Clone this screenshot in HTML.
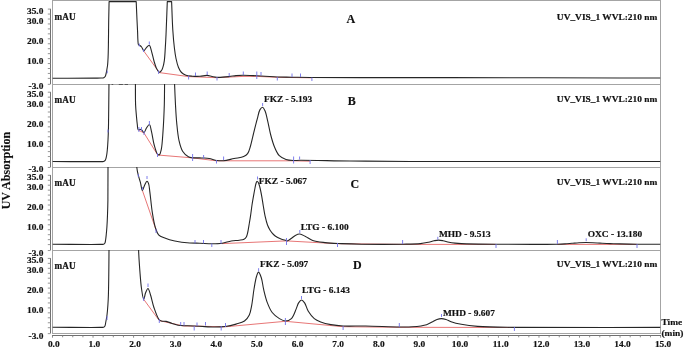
<!DOCTYPE html>
<html><head><meta charset="utf-8"><title>Chromatogram</title>
<style>html,body{margin:0;padding:0;background:#fff;width:685px;height:349px;overflow:hidden;font-family:"Liberation Serif",serif;}svg{display:block;will-change:transform;-webkit-font-smoothing:antialiased}</style>
</head><body>
<svg width="685" height="349" viewBox="0 0 685 349">
<defs>
<clipPath id="c0"><rect x="52.5" y="0.5" width="608" height="84.0"/></clipPath>
<clipPath id="c1"><rect x="52.5" y="84.0" width="608" height="83.5"/></clipPath>
<clipPath id="c2"><rect x="52.5" y="167.0" width="608" height="83.5"/></clipPath>
<clipPath id="c3"><rect x="52.5" y="250.0" width="608" height="83.5"/></clipPath>
</defs>
<g stroke="#a4a4a4" stroke-width="1" fill="none">
<line x1="52.5" y1="0" x2="52.5" y2="334"/>
<line x1="660.5" y1="0" x2="660.5" y2="334"/>
<line x1="52.0" y1="0.5" x2="661.0" y2="0.5"/>
<line x1="52.0" y1="84.5" x2="661.0" y2="84.5"/>
<line x1="52.0" y1="167.5" x2="661.0" y2="167.5"/>
<line x1="52.0" y1="250.5" x2="661.0" y2="250.5"/>
<line x1="52.0" y1="333.5" x2="661.0" y2="333.5"/>
</g>
<g stroke="#707070" stroke-width="1" fill="none">
<line x1="50.5" y1="8.80" x2="50.5" y2="84.04"/>
<line x1="47.8" y1="9.10" x2="50.5" y2="9.10" stroke="#8a8a8a" stroke-width="0.9"/>
<line x1="47.8" y1="14.05" x2="50.5" y2="14.05" stroke="#8a8a8a" stroke-width="0.9"/>
<line x1="47.8" y1="19.00" x2="50.5" y2="19.00" stroke="#8a8a8a" stroke-width="0.9"/>
<line x1="47.8" y1="23.95" x2="50.5" y2="23.95" stroke="#8a8a8a" stroke-width="0.9"/>
<line x1="47.8" y1="28.90" x2="50.5" y2="28.90" stroke="#8a8a8a" stroke-width="0.9"/>
<line x1="47.8" y1="33.85" x2="50.5" y2="33.85" stroke="#8a8a8a" stroke-width="0.9"/>
<line x1="47.8" y1="38.80" x2="50.5" y2="38.80" stroke="#8a8a8a" stroke-width="0.9"/>
<line x1="47.8" y1="43.75" x2="50.5" y2="43.75" stroke="#8a8a8a" stroke-width="0.9"/>
<line x1="47.8" y1="48.70" x2="50.5" y2="48.70" stroke="#8a8a8a" stroke-width="0.9"/>
<line x1="47.8" y1="53.65" x2="50.5" y2="53.65" stroke="#8a8a8a" stroke-width="0.9"/>
<line x1="47.8" y1="58.60" x2="50.5" y2="58.60" stroke="#8a8a8a" stroke-width="0.9"/>
<line x1="47.8" y1="63.55" x2="50.5" y2="63.55" stroke="#8a8a8a" stroke-width="0.9"/>
<line x1="47.8" y1="68.50" x2="50.5" y2="68.50" stroke="#8a8a8a" stroke-width="0.9"/>
<line x1="47.8" y1="73.45" x2="50.5" y2="73.45" stroke="#8a8a8a" stroke-width="0.9"/>
<line x1="47.8" y1="78.40" x2="50.5" y2="78.40" stroke="#8a8a8a" stroke-width="0.9"/>
<line x1="47.8" y1="84.34" x2="50.5" y2="84.34" stroke="#8a8a8a" stroke-width="0.9"/>
<line x1="50.5" y1="91.90" x2="50.5" y2="167.14"/>
<line x1="47.8" y1="92.20" x2="50.5" y2="92.20" stroke="#8a8a8a" stroke-width="0.9"/>
<line x1="47.8" y1="97.15" x2="50.5" y2="97.15" stroke="#8a8a8a" stroke-width="0.9"/>
<line x1="47.8" y1="102.10" x2="50.5" y2="102.10" stroke="#8a8a8a" stroke-width="0.9"/>
<line x1="47.8" y1="107.05" x2="50.5" y2="107.05" stroke="#8a8a8a" stroke-width="0.9"/>
<line x1="47.8" y1="112.00" x2="50.5" y2="112.00" stroke="#8a8a8a" stroke-width="0.9"/>
<line x1="47.8" y1="116.95" x2="50.5" y2="116.95" stroke="#8a8a8a" stroke-width="0.9"/>
<line x1="47.8" y1="121.90" x2="50.5" y2="121.90" stroke="#8a8a8a" stroke-width="0.9"/>
<line x1="47.8" y1="126.85" x2="50.5" y2="126.85" stroke="#8a8a8a" stroke-width="0.9"/>
<line x1="47.8" y1="131.80" x2="50.5" y2="131.80" stroke="#8a8a8a" stroke-width="0.9"/>
<line x1="47.8" y1="136.75" x2="50.5" y2="136.75" stroke="#8a8a8a" stroke-width="0.9"/>
<line x1="47.8" y1="141.70" x2="50.5" y2="141.70" stroke="#8a8a8a" stroke-width="0.9"/>
<line x1="47.8" y1="146.65" x2="50.5" y2="146.65" stroke="#8a8a8a" stroke-width="0.9"/>
<line x1="47.8" y1="151.60" x2="50.5" y2="151.60" stroke="#8a8a8a" stroke-width="0.9"/>
<line x1="47.8" y1="156.55" x2="50.5" y2="156.55" stroke="#8a8a8a" stroke-width="0.9"/>
<line x1="47.8" y1="161.50" x2="50.5" y2="161.50" stroke="#8a8a8a" stroke-width="0.9"/>
<line x1="47.8" y1="167.44" x2="50.5" y2="167.44" stroke="#8a8a8a" stroke-width="0.9"/>
<line x1="50.5" y1="175.00" x2="50.5" y2="250.24"/>
<line x1="47.8" y1="175.30" x2="50.5" y2="175.30" stroke="#8a8a8a" stroke-width="0.9"/>
<line x1="47.8" y1="180.25" x2="50.5" y2="180.25" stroke="#8a8a8a" stroke-width="0.9"/>
<line x1="47.8" y1="185.20" x2="50.5" y2="185.20" stroke="#8a8a8a" stroke-width="0.9"/>
<line x1="47.8" y1="190.15" x2="50.5" y2="190.15" stroke="#8a8a8a" stroke-width="0.9"/>
<line x1="47.8" y1="195.10" x2="50.5" y2="195.10" stroke="#8a8a8a" stroke-width="0.9"/>
<line x1="47.8" y1="200.05" x2="50.5" y2="200.05" stroke="#8a8a8a" stroke-width="0.9"/>
<line x1="47.8" y1="205.00" x2="50.5" y2="205.00" stroke="#8a8a8a" stroke-width="0.9"/>
<line x1="47.8" y1="209.95" x2="50.5" y2="209.95" stroke="#8a8a8a" stroke-width="0.9"/>
<line x1="47.8" y1="214.90" x2="50.5" y2="214.90" stroke="#8a8a8a" stroke-width="0.9"/>
<line x1="47.8" y1="219.85" x2="50.5" y2="219.85" stroke="#8a8a8a" stroke-width="0.9"/>
<line x1="47.8" y1="224.80" x2="50.5" y2="224.80" stroke="#8a8a8a" stroke-width="0.9"/>
<line x1="47.8" y1="229.75" x2="50.5" y2="229.75" stroke="#8a8a8a" stroke-width="0.9"/>
<line x1="47.8" y1="234.70" x2="50.5" y2="234.70" stroke="#8a8a8a" stroke-width="0.9"/>
<line x1="47.8" y1="239.65" x2="50.5" y2="239.65" stroke="#8a8a8a" stroke-width="0.9"/>
<line x1="47.8" y1="244.60" x2="50.5" y2="244.60" stroke="#8a8a8a" stroke-width="0.9"/>
<line x1="47.8" y1="250.54" x2="50.5" y2="250.54" stroke="#8a8a8a" stroke-width="0.9"/>
<line x1="50.5" y1="258.10" x2="50.5" y2="333.34"/>
<line x1="47.8" y1="258.40" x2="50.5" y2="258.40" stroke="#8a8a8a" stroke-width="0.9"/>
<line x1="47.8" y1="263.35" x2="50.5" y2="263.35" stroke="#8a8a8a" stroke-width="0.9"/>
<line x1="47.8" y1="268.30" x2="50.5" y2="268.30" stroke="#8a8a8a" stroke-width="0.9"/>
<line x1="47.8" y1="273.25" x2="50.5" y2="273.25" stroke="#8a8a8a" stroke-width="0.9"/>
<line x1="47.8" y1="278.20" x2="50.5" y2="278.20" stroke="#8a8a8a" stroke-width="0.9"/>
<line x1="47.8" y1="283.15" x2="50.5" y2="283.15" stroke="#8a8a8a" stroke-width="0.9"/>
<line x1="47.8" y1="288.10" x2="50.5" y2="288.10" stroke="#8a8a8a" stroke-width="0.9"/>
<line x1="47.8" y1="293.05" x2="50.5" y2="293.05" stroke="#8a8a8a" stroke-width="0.9"/>
<line x1="47.8" y1="298.00" x2="50.5" y2="298.00" stroke="#8a8a8a" stroke-width="0.9"/>
<line x1="47.8" y1="302.95" x2="50.5" y2="302.95" stroke="#8a8a8a" stroke-width="0.9"/>
<line x1="47.8" y1="307.90" x2="50.5" y2="307.90" stroke="#8a8a8a" stroke-width="0.9"/>
<line x1="47.8" y1="312.85" x2="50.5" y2="312.85" stroke="#8a8a8a" stroke-width="0.9"/>
<line x1="47.8" y1="317.80" x2="50.5" y2="317.80" stroke="#8a8a8a" stroke-width="0.9"/>
<line x1="47.8" y1="322.75" x2="50.5" y2="322.75" stroke="#8a8a8a" stroke-width="0.9"/>
<line x1="47.8" y1="327.70" x2="50.5" y2="327.70" stroke="#8a8a8a" stroke-width="0.9"/>
<line x1="47.8" y1="333.64" x2="50.5" y2="333.64" stroke="#8a8a8a" stroke-width="0.9"/>
</g>
<g font-family="Liberation Serif" font-weight="bold" font-size="9.4" fill="#111" stroke="#111" stroke-width="0.2" text-anchor="end">
<text transform="translate(43.40,14.15) scale(1,0.91)">35.0</text>
<text transform="translate(43.40,24.05) scale(1,0.91)">30.0</text>
<text transform="translate(43.40,43.85) scale(1,0.91)">20.0</text>
<text transform="translate(43.40,63.65) scale(1,0.91)">10.0</text>
<text transform="translate(43.40,89.39) scale(1,0.91)">-3.0</text>
<text transform="translate(43.40,97.25) scale(1,0.91)">35.0</text>
<text transform="translate(43.40,107.15) scale(1,0.91)">30.0</text>
<text transform="translate(43.40,126.95) scale(1,0.91)">20.0</text>
<text transform="translate(43.40,146.75) scale(1,0.91)">10.0</text>
<text transform="translate(43.40,172.49) scale(1,0.91)">-3.0</text>
<text transform="translate(43.40,180.35) scale(1,0.91)">35.0</text>
<text transform="translate(43.40,190.25) scale(1,0.91)">30.0</text>
<text transform="translate(43.40,210.05) scale(1,0.91)">20.0</text>
<text transform="translate(43.40,229.85) scale(1,0.91)">10.0</text>
<text transform="translate(43.40,255.59) scale(1,0.91)">-3.0</text>
<text transform="translate(43.40,263.45) scale(1,0.91)">35.0</text>
<text transform="translate(43.40,273.35) scale(1,0.91)">30.0</text>
<text transform="translate(43.40,293.15) scale(1,0.91)">20.0</text>
<text transform="translate(43.40,312.95) scale(1,0.91)">10.0</text>
<text transform="translate(43.40,338.69) scale(1,0.91)">-3.0</text>
</g>
<g stroke="#707070" stroke-width="1" fill="none">
<line x1="52" y1="335.5" x2="661" y2="335.5"/>
<line x1="52.50" y1="335.5" x2="52.50" y2="337.7" stroke="#808080" stroke-width="0.9"/>
<line x1="62.63" y1="335.5" x2="62.63" y2="337.3" stroke="#808080" stroke-width="0.9"/>
<line x1="72.77" y1="335.5" x2="72.77" y2="337.3" stroke="#808080" stroke-width="0.9"/>
<line x1="82.91" y1="335.5" x2="82.91" y2="337.3" stroke="#808080" stroke-width="0.9"/>
<line x1="93.04" y1="335.5" x2="93.04" y2="337.7" stroke="#808080" stroke-width="0.9"/>
<line x1="103.17" y1="335.5" x2="103.17" y2="337.3" stroke="#808080" stroke-width="0.9"/>
<line x1="113.31" y1="335.5" x2="113.31" y2="337.3" stroke="#808080" stroke-width="0.9"/>
<line x1="123.44" y1="335.5" x2="123.44" y2="337.3" stroke="#808080" stroke-width="0.9"/>
<line x1="133.58" y1="335.5" x2="133.58" y2="337.7" stroke="#808080" stroke-width="0.9"/>
<line x1="143.72" y1="335.5" x2="143.72" y2="337.3" stroke="#808080" stroke-width="0.9"/>
<line x1="153.85" y1="335.5" x2="153.85" y2="337.3" stroke="#808080" stroke-width="0.9"/>
<line x1="163.99" y1="335.5" x2="163.99" y2="337.3" stroke="#808080" stroke-width="0.9"/>
<line x1="174.12" y1="335.5" x2="174.12" y2="337.7" stroke="#808080" stroke-width="0.9"/>
<line x1="184.25" y1="335.5" x2="184.25" y2="337.3" stroke="#808080" stroke-width="0.9"/>
<line x1="194.39" y1="335.5" x2="194.39" y2="337.3" stroke="#808080" stroke-width="0.9"/>
<line x1="204.53" y1="335.5" x2="204.53" y2="337.3" stroke="#808080" stroke-width="0.9"/>
<line x1="214.66" y1="335.5" x2="214.66" y2="337.7" stroke="#808080" stroke-width="0.9"/>
<line x1="224.79" y1="335.5" x2="224.79" y2="337.3" stroke="#808080" stroke-width="0.9"/>
<line x1="234.93" y1="335.5" x2="234.93" y2="337.3" stroke="#808080" stroke-width="0.9"/>
<line x1="245.06" y1="335.5" x2="245.06" y2="337.3" stroke="#808080" stroke-width="0.9"/>
<line x1="255.20" y1="335.5" x2="255.20" y2="337.7" stroke="#808080" stroke-width="0.9"/>
<line x1="265.34" y1="335.5" x2="265.34" y2="337.3" stroke="#808080" stroke-width="0.9"/>
<line x1="275.47" y1="335.5" x2="275.47" y2="337.3" stroke="#808080" stroke-width="0.9"/>
<line x1="285.61" y1="335.5" x2="285.61" y2="337.3" stroke="#808080" stroke-width="0.9"/>
<line x1="295.74" y1="335.5" x2="295.74" y2="337.7" stroke="#808080" stroke-width="0.9"/>
<line x1="305.88" y1="335.5" x2="305.88" y2="337.3" stroke="#808080" stroke-width="0.9"/>
<line x1="316.01" y1="335.5" x2="316.01" y2="337.3" stroke="#808080" stroke-width="0.9"/>
<line x1="326.14" y1="335.5" x2="326.14" y2="337.3" stroke="#808080" stroke-width="0.9"/>
<line x1="336.28" y1="335.5" x2="336.28" y2="337.7" stroke="#808080" stroke-width="0.9"/>
<line x1="346.42" y1="335.5" x2="346.42" y2="337.3" stroke="#808080" stroke-width="0.9"/>
<line x1="356.55" y1="335.5" x2="356.55" y2="337.3" stroke="#808080" stroke-width="0.9"/>
<line x1="366.69" y1="335.5" x2="366.69" y2="337.3" stroke="#808080" stroke-width="0.9"/>
<line x1="376.82" y1="335.5" x2="376.82" y2="337.7" stroke="#808080" stroke-width="0.9"/>
<line x1="386.95" y1="335.5" x2="386.95" y2="337.3" stroke="#808080" stroke-width="0.9"/>
<line x1="397.09" y1="335.5" x2="397.09" y2="337.3" stroke="#808080" stroke-width="0.9"/>
<line x1="407.22" y1="335.5" x2="407.22" y2="337.3" stroke="#808080" stroke-width="0.9"/>
<line x1="417.36" y1="335.5" x2="417.36" y2="337.7" stroke="#808080" stroke-width="0.9"/>
<line x1="427.50" y1="335.5" x2="427.50" y2="337.3" stroke="#808080" stroke-width="0.9"/>
<line x1="437.63" y1="335.5" x2="437.63" y2="337.3" stroke="#808080" stroke-width="0.9"/>
<line x1="447.76" y1="335.5" x2="447.76" y2="337.3" stroke="#808080" stroke-width="0.9"/>
<line x1="457.90" y1="335.5" x2="457.90" y2="337.7" stroke="#808080" stroke-width="0.9"/>
<line x1="468.03" y1="335.5" x2="468.03" y2="337.3" stroke="#808080" stroke-width="0.9"/>
<line x1="478.17" y1="335.5" x2="478.17" y2="337.3" stroke="#808080" stroke-width="0.9"/>
<line x1="488.31" y1="335.5" x2="488.31" y2="337.3" stroke="#808080" stroke-width="0.9"/>
<line x1="498.44" y1="335.5" x2="498.44" y2="337.7" stroke="#808080" stroke-width="0.9"/>
<line x1="508.57" y1="335.5" x2="508.57" y2="337.3" stroke="#808080" stroke-width="0.9"/>
<line x1="518.71" y1="335.5" x2="518.71" y2="337.3" stroke="#808080" stroke-width="0.9"/>
<line x1="528.85" y1="335.5" x2="528.85" y2="337.3" stroke="#808080" stroke-width="0.9"/>
<line x1="538.98" y1="335.5" x2="538.98" y2="337.7" stroke="#808080" stroke-width="0.9"/>
<line x1="549.12" y1="335.5" x2="549.12" y2="337.3" stroke="#808080" stroke-width="0.9"/>
<line x1="559.25" y1="335.5" x2="559.25" y2="337.3" stroke="#808080" stroke-width="0.9"/>
<line x1="569.38" y1="335.5" x2="569.38" y2="337.3" stroke="#808080" stroke-width="0.9"/>
<line x1="579.52" y1="335.5" x2="579.52" y2="337.7" stroke="#808080" stroke-width="0.9"/>
<line x1="589.65" y1="335.5" x2="589.65" y2="337.3" stroke="#808080" stroke-width="0.9"/>
<line x1="599.79" y1="335.5" x2="599.79" y2="337.3" stroke="#808080" stroke-width="0.9"/>
<line x1="609.92" y1="335.5" x2="609.92" y2="337.3" stroke="#808080" stroke-width="0.9"/>
<line x1="620.06" y1="335.5" x2="620.06" y2="337.7" stroke="#808080" stroke-width="0.9"/>
<line x1="630.19" y1="335.5" x2="630.19" y2="337.3" stroke="#808080" stroke-width="0.9"/>
<line x1="640.33" y1="335.5" x2="640.33" y2="337.3" stroke="#808080" stroke-width="0.9"/>
<line x1="650.47" y1="335.5" x2="650.47" y2="337.3" stroke="#808080" stroke-width="0.9"/>
<line x1="660.60" y1="335.5" x2="660.60" y2="337.7" stroke="#808080" stroke-width="0.9"/>
</g>
<g font-family="Liberation Serif" font-weight="bold" font-size="9.4" fill="#111" stroke="#111" stroke-width="0.2" text-anchor="middle">
<text transform="translate(53.80,346.80) scale(1,0.91)">0.0</text>
<text transform="translate(94.42,346.80) scale(1,0.91)">1.0</text>
<text transform="translate(135.04,346.80) scale(1,0.91)">2.0</text>
<text transform="translate(175.66,346.80) scale(1,0.91)">3.0</text>
<text transform="translate(216.28,346.80) scale(1,0.91)">4.0</text>
<text transform="translate(256.90,346.80) scale(1,0.91)">5.0</text>
<text transform="translate(297.52,346.80) scale(1,0.91)">6.0</text>
<text transform="translate(338.14,346.80) scale(1,0.91)">7.0</text>
<text transform="translate(378.76,346.80) scale(1,0.91)">8.0</text>
<text transform="translate(419.38,346.80) scale(1,0.91)">9.0</text>
<text transform="translate(460.00,346.80) scale(1,0.91)">10.0</text>
<text transform="translate(500.62,346.80) scale(1,0.91)">11.0</text>
<text transform="translate(541.24,346.80) scale(1,0.91)">12.0</text>
<text transform="translate(581.86,346.80) scale(1,0.91)">13.0</text>
<text transform="translate(622.48,346.80) scale(1,0.91)">14.0</text>
<text transform="translate(663.10,346.80) scale(1,0.91)">15.0</text>
</g>
<g font-family="Liberation Serif" font-weight="bold" font-size="9.4" fill="#111" stroke="#111" stroke-width="0.2">
<g font-size="9.2"><text transform="translate(54.60,19.60) scale(1,1.03)">mAU</text></g>
<text transform="translate(657.30,19.50) scale(1,0.91)" text-anchor="end">UV_VIS_1 WVL:210 nm</text>
<g font-size="9.2"><text transform="translate(54.60,102.63) scale(1,1.03)">mAU</text></g>
<text transform="translate(657.30,102.00) scale(1,0.91)" text-anchor="end">UV_VIS_1 WVL:210 nm</text>
<g font-size="9.2"><text transform="translate(54.60,185.66) scale(1,1.03)">mAU</text></g>
<text transform="translate(657.30,184.70) scale(1,0.91)" text-anchor="end">UV_VIS_1 WVL:210 nm</text>
<g font-size="9.2"><text transform="translate(54.60,268.69) scale(1,1.03)">mAU</text></g>
<text transform="translate(657.30,266.80) scale(1,0.91)" text-anchor="end">UV_VIS_1 WVL:210 nm</text>
<text transform="translate(263.90,102.20) scale(1,0.91)">FKZ - 5.193</text>
<text transform="translate(258.80,183.80) scale(1,0.91)">FKZ - 5.067</text>
<text transform="translate(300.70,229.90) scale(1,0.91)">LTG - 6.100</text>
<text transform="translate(438.90,237.00) scale(1,0.91)">MHD - 9.513</text>
<text transform="translate(587.70,237.10) scale(1,0.91)">OXC - 13.180</text>
<text transform="translate(260.10,267.10) scale(1,0.91)">FKZ - 5.097</text>
<text transform="translate(302.00,293.20) scale(1,0.91)">LTG - 6.143</text>
<text transform="translate(443.00,315.70) scale(1,0.91)">MHD - 9.607</text>
<text transform="translate(661.50,325.20) scale(1,0.91)">Time</text>
<text transform="translate(661.50,335.90) scale(1,0.91)">(min)</text>
</g>
<g font-family="Liberation Serif" font-weight="bold" font-size="12.0" fill="#111" stroke="#111" stroke-width="0.15">
<text x="346.60" y="22.80">A</text>
<text x="347.80" y="105.00">B</text>
<text x="350.40" y="188.00">C</text>
<text x="352.90" y="269.00">D</text>
<text transform="translate(9.9,170.6) rotate(-90)" text-anchor="middle">UV Absorption</text>
</g>
<g stroke="#555" stroke-width="1">
<line x1="111.6" y1="84.5" x2="113.2" y2="84.5"/>
<line x1="118.8" y1="84.5" x2="122.9" y2="84.5"/>
<line x1="124.7" y1="84.5" x2="128.0" y2="84.5"/>
</g>
<g stroke="#e35d5d" stroke-width="0.85" fill="none">
<path d="M143.90,51.20 L159.40,72.60 L188.60,76.60 L217.00,77.70 L243.00,76.40 L257.00,76.40 L277.00,77.30 L311.90,77.80"/>
<path d="M138.90,130.30 L144.00,133.00 L157.70,155.00 L192.60,157.90 L216.50,160.80 L293.60,160.80 L310.00,161.20"/>
<path d="M142.40,190.50 L156.60,231.50"/>
<path d="M222.00,243.60 L286.20,240.90 L337.50,243.70 L402.60,244.40 L496.00,244.40"/>
<path d="M557.40,244.40 L637.00,244.40"/>
<path d="M143.70,299.30 L159.30,320.60 L183.00,325.90 L225.30,326.80 L285.40,321.30 L343.10,326.70 L399.30,327.30 L514.40,327.50"/>
</g>
<path clip-path="url(#c0)" d="M52.30,78.20 C66.53,78.17 87.24,78.17 95.00,78.10 C97.91,78.07 99.38,78.10 101.00,78.00 C102.11,77.93 103.06,78.02 103.80,77.70 C104.40,77.44 104.84,77.04 105.20,76.50 C105.62,75.86 105.76,74.94 106.00,74.00 C106.30,72.83 106.55,71.41 106.80,70.00 C107.08,68.43 107.39,66.87 107.60,65.00 C107.86,62.65 107.97,59.94 108.10,57.00 C108.26,53.41 108.31,49.73 108.40,45.00 C108.53,38.18 108.57,27.70 108.70,20.00 C108.81,13.40 108.97,7.73 109.10,1.60 C118.13,1.60 127.17,1.60 136.20,1.60 C136.47,7.73 136.74,14.52 137.00,20.00 C137.21,24.43 137.44,28.40 137.60,32.00 C137.73,34.94 137.71,37.69 137.90,40.00 C138.05,41.78 137.90,43.83 138.50,44.70 C138.86,45.22 139.51,45.15 140.00,45.50 C140.55,45.90 141.07,46.33 141.60,47.00 C142.37,47.96 143.10,50.86 143.90,50.90 C144.64,50.94 145.31,48.74 146.20,47.80 C147.11,46.84 148.46,44.97 149.30,45.20 C150.39,45.49 150.88,49.24 151.60,51.60 C152.46,54.41 153.15,58.12 154.00,61.00 C154.73,63.49 155.30,65.92 156.30,67.90 C157.16,69.60 158.40,72.18 159.40,72.30 C160.12,72.39 160.95,71.22 161.50,70.50 C162.06,69.76 162.33,69.00 162.70,67.90 C163.30,66.14 163.89,63.53 164.30,60.80 C164.85,57.15 165.02,52.20 165.30,47.90 C165.58,43.60 165.75,40.30 166.00,35.00 C166.40,26.47 166.87,12.73 167.30,1.60 C168.73,1.60 170.17,1.60 171.60,1.60 C172.00,11.07 172.25,21.61 172.80,30.00 C173.24,36.69 173.77,42.81 174.40,48.00 C174.88,51.98 175.28,55.16 176.00,58.50 C176.67,61.64 177.43,65.00 178.50,67.50 C179.35,69.48 180.21,71.20 181.50,72.50 C182.71,73.72 184.22,74.58 185.90,75.20 C187.80,75.90 190.14,76.01 192.40,76.20 C194.83,76.40 197.51,76.44 200.00,76.30 C202.41,76.16 204.96,75.30 207.10,75.40 C208.89,75.48 210.37,76.18 212.00,76.50 C213.60,76.81 214.83,77.19 216.80,77.30 C219.93,77.47 225.50,76.95 229.00,76.60 C231.66,76.33 233.66,75.83 236.00,75.60 C238.33,75.37 240.27,75.22 243.00,75.20 C246.87,75.17 252.98,75.61 257.00,75.80 C260.04,75.94 262.05,76.03 265.00,76.20 C268.64,76.41 272.93,76.83 277.20,77.00 C281.89,77.19 286.83,77.12 292.00,77.20 C297.71,77.29 301.71,77.43 310.00,77.50 C328.54,77.66 374.38,77.59 400.00,77.60 C419.10,77.61 430.90,77.58 450.00,77.60 C475.62,77.63 507.82,77.74 540.00,77.80 C577.24,77.87 620.33,77.93 660.50,78.00" stroke="#262626" stroke-width="1.1" fill="none" stroke-linejoin="round"/>
<path clip-path="url(#c1)" d="M52.30,161.50 C68.20,161.53 93.22,161.79 100.00,161.60 C101.84,161.55 102.57,161.70 103.50,161.40 C104.20,161.17 104.74,160.91 105.20,160.30 C105.88,159.40 106.16,157.57 106.50,156.00 C106.89,154.18 107.07,152.26 107.30,150.00 C107.60,147.09 107.82,143.33 108.00,140.00 C108.18,136.67 108.29,133.91 108.40,130.00 C108.55,124.48 108.61,117.34 108.70,110.00 C108.81,101.01 108.90,90.00 109.00,80.00 C117.80,80.00 126.60,80.00 135.40,80.00 C135.47,88.33 135.33,98.41 135.60,105.00 C135.78,109.32 136.10,112.31 136.40,115.70 C136.67,118.78 136.95,121.93 137.30,124.50 C137.57,126.52 137.45,129.45 138.20,129.90 C138.64,130.17 139.41,129.29 140.00,129.30 C140.58,129.31 141.14,129.52 141.70,129.90 C142.48,130.42 143.27,132.58 144.00,132.50 C144.89,132.40 145.57,129.37 146.50,128.00 C147.38,126.72 148.62,124.34 149.40,124.50 C150.40,124.70 150.82,128.84 151.50,131.60 C152.43,135.35 153.05,140.97 154.20,145.00 C155.18,148.45 156.37,153.30 157.70,154.40 C158.27,154.87 158.99,155.00 159.50,154.70 C160.39,154.17 160.80,151.72 161.30,149.40 C162.19,145.25 162.53,138.13 163.00,131.60 C163.58,123.63 164.03,113.73 164.30,105.00 C164.56,96.54 164.50,88.33 164.60,80.00 C167.87,80.00 171.13,80.00 174.40,80.00 C174.77,88.33 175.08,97.37 175.50,105.00 C175.86,111.44 176.12,116.88 176.70,122.80 C177.28,128.72 177.82,135.39 179.00,140.50 C179.94,144.57 180.77,148.35 182.60,151.20 C184.19,153.67 186.21,155.85 188.80,157.00 C191.71,158.29 196.81,157.75 199.50,157.90 C201.12,157.99 201.97,157.92 203.40,158.00 C205.14,158.10 207.15,158.15 209.20,158.50 C211.60,158.91 214.40,160.14 216.90,160.50 C219.19,160.83 221.13,160.92 223.60,160.70 C226.72,160.42 230.68,159.20 234.10,158.50 C237.37,157.83 241.30,157.67 243.70,156.60 C245.39,155.85 246.54,155.10 247.60,153.70 C248.98,151.87 249.62,148.85 250.50,146.00 C251.56,142.58 252.28,138.60 253.30,134.50 C254.48,129.76 255.97,123.70 257.20,119.20 C258.18,115.62 258.73,111.61 260.00,109.60 C260.75,108.42 261.81,107.21 262.60,107.30 C263.45,107.40 264.21,109.11 264.90,110.60 C266.04,113.05 266.80,117.38 267.70,121.10 C268.71,125.28 269.45,130.14 270.60,134.50 C271.72,138.76 272.91,143.28 274.50,147.00 C275.88,150.24 277.20,153.58 279.30,155.70 C281.15,157.57 283.61,158.70 286.00,159.50 C288.38,160.30 291.17,160.38 293.60,160.50 C295.82,160.61 296.86,160.33 300.00,160.30 C308.78,160.22 332.57,160.81 350.00,161.00 C369.09,161.21 383.14,161.39 410.00,161.50 C464.87,161.73 577.00,161.50 660.50,161.50" stroke="#262626" stroke-width="1.1" fill="none" stroke-linejoin="round"/>
<path clip-path="url(#c2)" d="M52.30,244.30 C68.20,244.33 93.22,244.59 100.00,244.40 C101.84,244.35 102.65,244.49 103.50,244.20 C104.07,244.00 104.47,243.78 104.80,243.30 C105.29,242.59 105.38,241.22 105.60,240.00 C105.87,238.51 106.01,236.86 106.20,235.00 C106.44,232.65 106.70,229.94 106.90,227.00 C107.15,223.41 107.34,219.22 107.50,215.00 C107.68,210.28 107.81,206.46 107.90,200.00 C108.07,188.20 107.97,166.67 108.00,150.00 C117.60,150.00 127.20,150.00 136.80,150.00 C136.80,155.73 136.37,162.57 136.80,167.20 C137.10,170.39 137.68,172.62 138.30,175.20 C138.89,177.68 139.73,179.92 140.40,182.40 C141.10,185.01 141.63,190.44 142.40,190.50 C143.03,190.55 143.70,186.98 144.50,185.40 C145.25,183.93 146.25,181.33 147.00,181.30 C147.55,181.28 148.09,182.39 148.50,183.40 C149.28,185.30 149.40,188.80 149.90,192.40 C150.64,197.75 151.31,206.24 152.30,212.40 C153.16,217.75 154.01,223.23 155.30,227.30 C156.25,230.29 156.91,233.00 158.60,234.80 C160.16,236.46 162.44,237.05 164.80,238.00 C167.69,239.17 171.09,240.20 174.80,241.00 C179.26,241.96 185.31,242.66 189.80,243.00 C193.43,243.28 196.24,243.08 199.70,243.20 C203.53,243.33 207.93,243.80 211.80,243.80 C215.37,243.80 218.80,243.79 222.10,243.30 C225.25,242.83 228.24,241.52 231.20,241.00 C233.96,240.52 236.97,240.56 239.30,240.20 C241.09,239.92 242.78,239.85 244.00,239.20 C244.99,238.67 245.70,237.98 246.30,237.00 C247.07,235.74 247.36,233.88 247.80,232.00 C248.35,229.66 248.75,226.65 249.20,224.00 C249.65,221.38 250.07,219.04 250.50,216.20 C251.01,212.81 251.47,208.51 252.00,205.00 C252.47,201.86 252.99,198.99 253.50,196.10 C253.99,193.33 254.53,190.30 255.00,188.00 C255.35,186.28 255.58,184.73 256.00,183.50 C256.32,182.58 256.67,181.26 257.10,181.20 C257.46,181.15 257.94,181.88 258.30,182.50 C258.90,183.51 259.32,185.22 259.80,187.00 C260.47,189.49 261.13,193.00 261.70,196.10 C262.30,199.32 262.74,202.68 263.30,206.00 C263.87,209.38 264.37,212.94 265.10,216.20 C265.79,219.26 266.54,222.49 267.50,225.00 C268.27,227.00 269.08,228.60 270.10,230.20 C271.09,231.76 272.26,233.28 273.50,234.50 C274.64,235.62 275.91,236.54 277.20,237.30 C278.42,238.02 279.62,238.48 281.00,239.00 C282.58,239.59 285.15,240.23 286.20,240.60 C286.67,240.77 286.77,241.04 287.20,241.00 C288.10,240.92 289.88,239.41 291.20,238.50 C292.58,237.55 293.83,236.15 295.30,235.40 C296.71,234.68 298.23,233.91 299.80,234.00 C301.61,234.10 303.51,235.52 305.50,236.50 C307.79,237.63 309.88,239.51 312.70,240.50 C316.17,241.72 320.60,242.09 325.00,242.60 C330.04,243.18 335.56,243.34 341.30,243.60 C347.72,243.89 353.73,244.08 361.70,244.20 C372.99,244.37 391.76,244.38 402.60,244.20 C409.75,244.08 415.62,244.09 420.40,243.60 C423.67,243.27 426.16,242.72 428.60,242.20 C430.60,241.77 432.28,241.16 434.00,240.80 C435.53,240.48 436.92,240.12 438.40,240.10 C439.91,240.08 441.37,240.39 443.00,240.70 C444.88,241.06 446.99,241.80 449.00,242.20 C450.99,242.60 452.97,242.87 455.00,243.10 C457.07,243.34 458.35,243.46 461.30,243.60 C468.21,243.93 482.79,244.09 496.00,244.20 C513.57,244.35 546.75,244.41 557.40,244.20 C561.15,244.13 562.52,244.06 565.00,243.90 C567.38,243.75 569.67,243.50 572.00,243.30 C574.33,243.10 576.66,242.83 579.00,242.70 C581.33,242.57 583.67,242.50 586.00,242.50 C588.33,242.50 590.67,242.60 593.00,242.70 C595.33,242.80 597.46,242.96 600.00,243.10 C603.04,243.26 606.67,243.47 610.00,243.60 C613.33,243.73 616.22,243.81 620.00,243.90 C624.94,244.02 630.95,244.15 637.10,244.20 C644.29,244.26 652.70,244.20 660.50,244.20" stroke="#262626" stroke-width="1.1" fill="none" stroke-linejoin="round"/>
<path clip-path="url(#c3)" d="M52.30,327.30 C68.20,327.33 93.22,327.59 100.00,327.40 C101.84,327.35 102.65,327.49 103.50,327.20 C104.07,327.00 104.45,326.81 104.80,326.30 C105.38,325.45 105.47,323.61 105.80,322.00 C106.21,319.95 106.67,317.55 107.00,315.00 C107.40,311.97 107.67,308.34 107.90,305.00 C108.13,301.67 108.26,299.53 108.40,295.00 C108.70,285.42 108.92,262.20 109.00,250.20 C109.05,242.14 109.00,236.73 109.00,230.00 C118.80,230.00 128.60,230.00 138.40,230.00 C138.47,236.73 138.34,243.19 138.60,250.20 C138.88,257.81 139.55,267.05 140.10,274.00 C140.53,279.43 140.83,284.04 141.50,288.50 C142.08,292.38 142.92,299.27 143.70,299.30 C144.31,299.33 144.80,294.70 145.60,292.80 C146.28,291.18 147.25,288.45 148.00,288.50 C148.86,288.56 149.59,292.08 150.40,294.50 C151.58,298.02 152.54,303.49 154.00,307.70 C155.40,311.74 157.25,317.25 158.90,319.30 C159.70,320.29 160.30,320.64 161.30,321.00 C162.58,321.47 164.43,321.06 166.10,321.40 C168.01,321.79 170.10,322.75 172.10,323.40 C174.10,324.05 175.84,324.89 178.10,325.30 C180.90,325.81 184.31,325.64 187.70,325.80 C191.50,325.98 195.58,326.11 199.80,326.30 C204.44,326.51 209.89,327.00 214.40,327.00 C218.30,327.00 221.70,326.98 225.30,326.50 C228.93,326.02 232.76,325.08 236.10,324.10 C239.11,323.22 242.26,322.62 244.50,321.00 C246.58,319.50 248.12,317.39 249.30,315.00 C250.65,312.27 250.98,309.00 251.70,305.30 C252.64,300.48 253.22,293.62 254.10,288.50 C254.84,284.15 255.54,279.48 256.50,276.50 C257.10,274.63 257.76,272.11 258.50,272.10 C259.34,272.08 260.52,275.42 261.30,277.70 C262.39,280.89 262.72,285.62 263.70,289.70 C264.73,294.01 265.86,298.92 267.40,302.90 C268.76,306.43 270.10,309.83 272.20,312.50 C274.16,315.00 276.99,317.15 279.40,318.60 C281.39,319.80 283.40,321.00 285.40,321.00 C287.40,321.00 289.73,320.14 291.40,318.60 C293.56,316.61 294.92,311.77 296.20,308.90 C297.19,306.68 297.57,304.46 298.60,302.90 C299.42,301.66 300.51,300.02 301.50,300.00 C302.51,299.98 303.65,301.55 304.60,302.90 C306.00,304.88 306.70,308.70 308.30,311.30 C309.92,313.94 312.06,316.79 314.30,318.60 C316.25,320.18 318.26,320.96 320.70,321.90 C323.65,323.04 327.32,323.92 330.90,324.60 C334.76,325.33 338.41,325.73 343.10,326.00 C349.45,326.36 357.35,325.88 365.60,326.00 C375.70,326.15 390.69,326.94 399.30,327.00 C404.65,327.04 407.88,327.16 412.30,326.80 C416.97,326.42 422.90,325.85 426.60,324.70 C429.14,323.91 430.85,322.65 432.70,321.70 C434.27,320.90 435.51,319.92 437.00,319.40 C438.44,318.90 440.00,318.58 441.50,318.60 C443.00,318.62 444.48,319.03 446.00,319.50 C447.67,320.02 449.08,321.01 451.10,321.70 C453.89,322.65 457.47,323.57 461.30,324.30 C466.10,325.21 471.13,325.89 477.70,326.40 C487.49,327.16 498.10,327.18 514.40,327.40 C546.92,327.84 611.80,327.40 660.50,327.40" stroke="#262626" stroke-width="1.1" fill="none" stroke-linejoin="round"/>
<g stroke="#7070ea" stroke-width="0.9">
<line x1="107.2" y1="70.7" x2="107.2" y2="73.3"/>
<line x1="139.3" y1="43.5" x2="139.3" y2="46.5"/>
<line x1="143.5" y1="49" x2="143.5" y2="52"/>
<line x1="149.3" y1="41.5" x2="149.3" y2="44.5"/>
<line x1="158.6" y1="70.5" x2="158.6" y2="74"/>
<line x1="188.6" y1="75.5" x2="188.6" y2="79.5"/>
<line x1="195.5" y1="72.5" x2="195.5" y2="76"/>
<line x1="207.2" y1="71.5" x2="207.2" y2="75"/>
<line x1="217" y1="77" x2="217" y2="80.5"/>
<line x1="229.2" y1="73" x2="229.2" y2="76.5"/>
<line x1="243.3" y1="71.5" x2="243.3" y2="75"/>
<line x1="256.8" y1="71.5" x2="256.8" y2="79"/>
<line x1="261" y1="72" x2="261" y2="75.5"/>
<line x1="277.3" y1="77" x2="277.3" y2="80.5"/>
<line x1="292" y1="73.5" x2="292" y2="77"/>
<line x1="300.5" y1="73.5" x2="300.5" y2="77"/>
<line x1="311.9" y1="77.5" x2="311.9" y2="81"/>
<line x1="108" y1="129.5" x2="108" y2="132.5"/>
<line x1="138.9" y1="127" x2="138.9" y2="132"/>
<line x1="141.5" y1="127" x2="141.5" y2="131"/>
<line x1="144" y1="131" x2="144" y2="135"/>
<line x1="149.4" y1="121" x2="149.4" y2="125"/>
<line x1="157.5" y1="153" x2="157.5" y2="157"/>
<line x1="192.6" y1="154" x2="192.6" y2="161"/>
<line x1="203.6" y1="155" x2="203.6" y2="158.5"/>
<line x1="216.5" y1="160" x2="216.5" y2="163.5"/>
<line x1="223.6" y1="156.5" x2="223.6" y2="160"/>
<line x1="262.6" y1="103" x2="262.6" y2="106"/>
<line x1="293.6" y1="156.5" x2="293.6" y2="163.5"/>
<line x1="299.6" y1="156.5" x2="299.6" y2="159.5"/>
<line x1="310.1" y1="160" x2="310.1" y2="164"/>
<line x1="138.3" y1="174" x2="138.3" y2="177"/>
<line x1="142.4" y1="187" x2="142.4" y2="190"/>
<line x1="147" y1="176" x2="147" y2="179"/>
<line x1="156" y1="229" x2="156" y2="233"/>
<line x1="195" y1="240" x2="195" y2="243.5"/>
<line x1="203.5" y1="240" x2="203.5" y2="243.5"/>
<line x1="211.8" y1="243.5" x2="211.8" y2="247"/>
<line x1="221" y1="240" x2="221" y2="243.5"/>
<line x1="257.5" y1="176.5" x2="257.5" y2="179.5"/>
<line x1="286.5" y1="238" x2="286.5" y2="245"/>
<line x1="299.8" y1="230" x2="299.8" y2="233"/>
<line x1="337.5" y1="243" x2="337.5" y2="247"/>
<line x1="402.6" y1="240" x2="402.6" y2="244"/>
<line x1="437.8" y1="236.8" x2="437.8" y2="239.6"/>
<line x1="496" y1="244" x2="496" y2="248"/>
<line x1="557.4" y1="240" x2="557.4" y2="244"/>
<line x1="586.2" y1="238.3" x2="586.2" y2="241.2"/>
<line x1="637" y1="244" x2="637" y2="248"/>
<line x1="107" y1="316" x2="107" y2="320"/>
<line x1="143.7" y1="297" x2="143.7" y2="301"/>
<line x1="148" y1="283.5" x2="148" y2="287"/>
<line x1="159.3" y1="319" x2="159.3" y2="323"/>
<line x1="180.7" y1="322" x2="180.7" y2="325.5"/>
<line x1="184" y1="322" x2="184" y2="325.5"/>
<line x1="194.2" y1="326" x2="194.2" y2="330.5"/>
<line x1="197" y1="322.5" x2="197" y2="326"/>
<line x1="205.5" y1="322" x2="205.5" y2="325.5"/>
<line x1="221.2" y1="326" x2="221.2" y2="330.5"/>
<line x1="225.5" y1="323" x2="225.5" y2="327"/>
<line x1="258.6" y1="268.2" x2="258.6" y2="271.3"/>
<line x1="285.4" y1="318" x2="285.4" y2="325"/>
<line x1="301.5" y1="296" x2="301.5" y2="299"/>
<line x1="343.1" y1="326" x2="343.1" y2="330"/>
<line x1="399.3" y1="323" x2="399.3" y2="327"/>
<line x1="441.5" y1="314" x2="441.5" y2="317"/>
<line x1="514.4" y1="327" x2="514.4" y2="331"/>
</g>
</svg>
</body></html>
